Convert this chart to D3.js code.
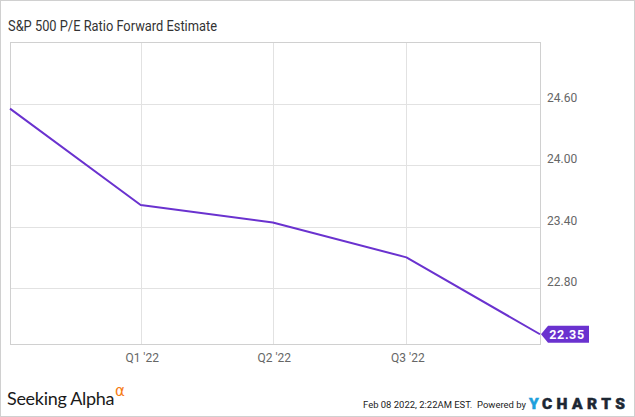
<!DOCTYPE html>
<html><head><meta charset="utf-8">
<script src="https://cdn.jsdelivr.net/npm/d3@7"></script>
<style>body{margin:0;background:#fff;}svg{display:block;}</style>
</head><body>
<svg id="c" width="635" height="417"></svg>
<script>
const title = "S&P 500 P/E Ratio Forward Estimate";
const dates = ["2021-10-04", "2022-01-01", "2022-04-01", "2022-07-01", "2022-09-30"];
const values = [24.55, 23.61, 23.44, 23.10, 22.35];
const xTicks = ["2022-01-01", "2022-04-01", "2022-07-01"];
const xTickLabels = ["Q1 '22", "Q2 '22", "Q3 '22"];
const yTicks = [22.80, 23.40, 24.00, 24.60];
const lastLabel = "22.35";
const footerDate = "Feb 08 2022, 2:22AM EST.";

const parse = d3.timeParse("%Y-%m-%d");
const svg = d3.select("#c");
const L = 10, R = 540, T = 42, B = 344;
const purple = "#6a32cf";

svg.append("rect").attr("x", 0.5).attr("y", 0.5).attr("width", 634).attr("height", 416)
  .attr("fill", "#fff").attr("stroke", "#d0d0d0");

const x = d3.scaleTime().domain([parse(dates[0]), parse(dates[dates.length - 1])]).range([L, R]);
const y = d3.scaleLinear().domain([22.255, 25.2]).range([B, T]);

svg.append("text").attr("x", 8).attr("y", 31).attr("font-family", "Roboto").attr("font-size", 14)
  .attr("textLength", 209).attr("lengthAdjust", "spacingAndGlyphs")
  .attr("fill", "#333").text(title);

// gridlines
const g = svg.append("g");
g.selectAll(".hg").data(yTicks).join("line")
  .attr("x1", L).attr("x2", R).attr("y1", d => Math.round(y(d)) + 0.5).attr("y2", d => Math.round(y(d)) + 0.5)
  .attr("stroke", "#e2e2e2");
g.selectAll(".vg").data(xTicks).join("line")
  .attr("x1", d => Math.round(x(parse(d))) + 0.5).attr("x2", d => Math.round(x(parse(d))) + 0.5)
  .attr("y1", T).attr("y2", B).attr("stroke", "#e2e2e2");

// plot border
svg.append("rect").attr("x", L + 0.5).attr("y", T + 0.5).attr("width", R - L).attr("height", B - T)
  .attr("fill", "none").attr("stroke", "#d0d0d0");

// y axis labels
const yAxis = d3.axisRight(y).tickValues(yTicks).tickFormat(d3.format(".2f")).tickSize(0).tickPadding(7);
const ya = svg.append("g").attr("transform", `translate(${R},0)`).call(yAxis);
ya.select(".domain").remove();
ya.selectAll("text").attr("font-family", "Roboto").attr("font-size", 12).attr("fill", "#666")
  .attr("dy", "-0.2em");

// x axis labels
const xAxis = d3.axisBottom(x).tickValues(xTicks.map(parse))
  .tickFormat((d, i) => xTickLabels[i]).tickSize(0).tickPadding(9);
const xa = svg.append("g").attr("transform", `translate(0,${B})`).call(xAxis);
xa.select(".domain").remove();
xa.selectAll("text").attr("font-family", "Roboto").attr("font-size", 12).attr("fill", "#666")
  .attr("dx", "1");

// line
const line = d3.line().x((d, i) => x(parse(dates[i]))).y(d => y(d));
svg.append("path").datum(values).attr("d", line).attr("fill", "none")
  .attr("stroke", purple).attr("stroke-width", 2).attr("stroke-linejoin", "round");

// last value label
const lx = x(parse(dates[dates.length - 1])), ly = y(values[values.length - 1]);
svg.append("path").attr("d", `M${lx + 1},${ly} L${lx + 8},${ly - 8.5} L${lx + 49},${ly - 8.5} L${lx + 49},${ly + 8.5} L${lx + 8},${ly + 8.5} Z`)
  .attr("fill", purple);
svg.append("text").attr("x", lx + 27).attr("y", ly + 4.5).attr("text-anchor", "middle")
  .attr("font-family", "Roboto").attr("font-weight", "bold").attr("font-size", 12.5)
  .attr("letter-spacing", "0.6").attr("fill", "#fff").text(lastLabel);

// footer
svg.append("text").attr("x", 7).attr("y", 405).attr("font-family", "Lato").attr("font-size", 18)
  .attr("fill", "#1a1a1a").attr("letter-spacing", "-0.3").text("Seeking Alpha");
svg.append("text").attr("x", 115).attr("y", 396).attr("font-family", "DejaVu Sans").attr("font-size", 15)
  .attr("fill", "#f57c14").text("α");

svg.append("text").attr("x", 363).attr("y", 408).attr("font-family", "Roboto")
  .attr("font-size", 9.6).attr("xml:space", "preserve")
  .attr("textLength", 163).attr("lengthAdjust", "spacingAndGlyphs")
  .attr("fill", "#222").text(footerDate + "  Powered by");
svg.append("text").attr("x", 529).attr("y", 408.5).attr("font-family", "Roboto").attr("font-weight", "900")
  .attr("font-size", 15.5).attr("stroke-width", 0.5).attr("fill", "#1ea0dc").attr("stroke", "#1ea0dc")
  .text("Y");
svg.append("text").attr("x", 542).attr("y", 408.5).attr("font-family", "Roboto").attr("font-weight", "900")
  .attr("font-size", 15.5).attr("textLength", 83).attr("lengthAdjust", "spacing")
  .attr("stroke-width", 0.5).attr("fill", "#1c2733").attr("stroke", "#1c2733")
  .text("CHARTS");
</script>
</body></html>
